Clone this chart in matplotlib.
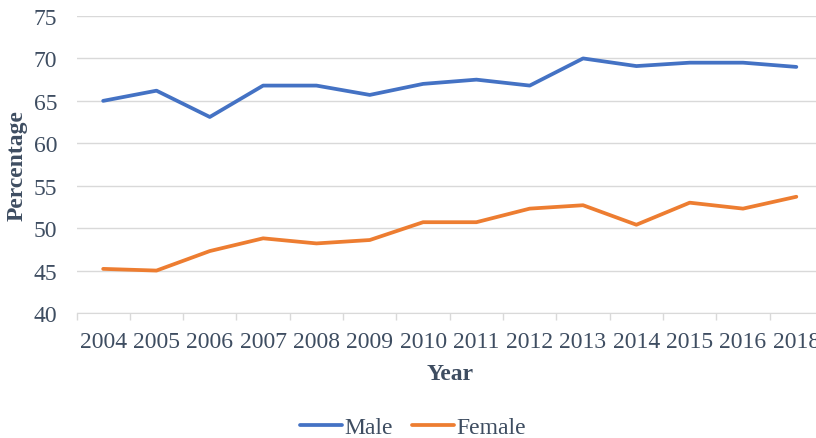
import matplotlib.pyplot as plt
import numpy as np

years = ["2004", "2005", "2006", "2007", "2008", "2009", "2010",
         "2011", "2012", "2013", "2014", "2015", "2016", "2018"]
male = [65.0, 66.2, 63.1, 66.8, 66.8, 65.7, 67.0,
        67.5, 66.8, 70.0, 69.1, 69.5, 69.5, 69.0]
female = [45.2, 45.0, 47.3, 48.8, 48.2, 48.6, 50.7,
          50.7, 52.3, 52.7, 50.4, 53.0, 52.3, 53.7]

plt.rcParams['font.family'] = ['Liberation Serif', 'DejaVu Serif']
text_color = "#3E4D61"
grid_color = "#D9D9D9"

fig = plt.figure(figsize=(8.16, 4.39), dpi=100)
ax = fig.add_axes([76.5 / 816, 125 / 439, 746.5 / 816, 297 / 439])

x = np.arange(len(years))
ax.plot(x, male, color="#4472C4", lw=2.7, solid_capstyle="round",
        solid_joinstyle="round", label="Male")
ax.plot(x, female, color="#ED7D31", lw=2.7, solid_capstyle="round",
        solid_joinstyle="round", label="Female")

ax.set_xlim(-0.5, len(years) - 0.5)
ax.set_ylim(40, 75)
ax.set_yticks(range(40, 76, 5))
ax.grid(axis="y", color=grid_color, lw=1)
ax.set_axisbelow(True)

# category boundaries as major ticks, labels on minor ticks at centers
ax.set_xticks(np.arange(-0.5, len(years), 1))
ax.set_xticklabels([])
ax.set_xticks(x, minor=True)
ax.set_xticklabels(years, minor=True)
ax.tick_params(axis="x", which="major", length=5, color=grid_color, width=1)
ax.tick_params(axis="x", which="minor", length=0, pad=13,
               labelsize=17, labelcolor=text_color)
ax.tick_params(axis="y", length=0, pad=14, labelsize=17, labelcolor=text_color)

for side in ["top", "right", "left"]:
    ax.spines[side].set_visible(False)
ax.spines["bottom"].set_color(grid_color)

ax.set_ylabel("Percentage", fontsize=17, fontweight="bold", color=text_color)
ax.yaxis.label.set_va("center")
ax.yaxis.set_label_coords(-0.079, 0.5)
ax.set_xlabel("Year", fontsize=17, fontweight="bold", color=text_color)
ax.xaxis.label.set_va("center")
ax.xaxis.set_label_coords(0.5, -0.205)

fig.legend(loc="center", bbox_to_anchor=(0.506, 0.025), ncol=2, frameon=False,
           fontsize=17, labelcolor=text_color, handlelength=1.8,
           handletextpad=0.1, columnspacing=0.8)

plt.savefig("out.png", dpi=100)
